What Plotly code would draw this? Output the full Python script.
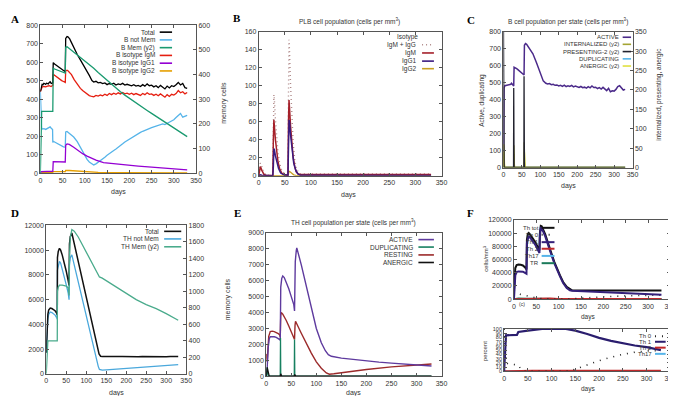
import plotly.graph_objects as go

W, H = 676, 396
FONT = "Liberation Sans"
FRAME = "#555555"
TXT = "#333333"

# ---------------- Panel A : B cell population ----------------
TAIL_A = list(range(120, 331, 5))
a_total_days = [0,2,4,6,8,10,12,14,16,18,20,22,24,26,28,29,32,36,40,44,48,52,56,
                57,60,62,66,70,76,83,90,95,100,105,110,116] + TAIL_A
a_total = [440,472,480,478,485,483,480,486,484,482,490,494,486,484,488,
           597,590,583,575,568,560,555,548,
           728,738,736,725,705,672,641,612,592,572,552,528,500,
           492,496,488,490,484,487,478,484,480,486,476,482,478,485,476,480,477,472,478,470,
           474,468,478,470,482,472,475,466,472,462,474,466,455,470,460,472,468,478,490,476,
           484,462,458]
a_igm_days = [0,2,4,8,12,16,20,24,28,29,32,36,40,44,48,52,56,
              57,60,62,66,70,76,83,90,95,100,105,110,116] + TAIL_A
a_igm = [440,458,465,468,466,470,472,468,474,
         534,528,520,512,506,500,495,490,
         552,556,553,545,532,505,478,458,446,436,426,419,414,
         412,420,416,422,418,426,420,430,424,432,426,434,428,436,428,432,426,432,424,430,
         426,420,430,424,434,426,428,420,426,418,428,420,410,424,414,426,422,430,446,434,
         440,428,436]
a_notmem_days = [0,1,2,3,5,8,12,16,20,22,24,26,27.5,28,29,32,36,40,44,48,52,56,
                 57,60,65,70,75,83,90,95,100,105,110,116] + TAIL_A
a_notmem = [440,380,300,245,238,240,236,242,245,250,244,238,235,
            165,172,168,162,156,150,146,142,140,
            222,225,215,205,195,170,138,112,92,74,60,48,
            44,50,58,66,76,86,96,106,114,122,130,138,148,158,168,176,184,192,198,206,
            212,220,226,232,238,242,246,250,254,258,262,266,262,268,274,280,288,300,314,322,
            302,306,312]
a_mem_days = [0,1,2,3,28,29,32,40,48,56,57,60,65,70,80,90,100,110,120,130,140,150,160,170,
              180,190,200,210,220,230,240,250,260,270,280,290,300,310,320,330]
a_mem = [0,150,235,250,250,425,422,416,410,405,510,512,505,498,484,470,456,440,425,408,392,
         375,360,345,330,316,303,290,278,266,254,242,230,218,206,194,182,170,158,148]
a_igg1_days = [0,2,28,29,56,57,60,65,75,85,95,105,115,125,142,160,176,194,220,250,280,310,330]
a_igg1 = [0,8,10,62,60,150,158,155,140,122,105,92,80,70,57,52,48,44,38,32,26,21,18]
a_igg2_days = [0,5,28,29,56,57,65,80,100,130,180,250,330]
a_igg2 = [0,3,4,8,8,14,14,11,7,4,2,1,1]

# ---------------- Panel B : PLB cell population ----------------
b_igm_days = [0,2,3,4,6,8,10,14,20,27,28,29,30,32,34,37,40,44,50,56,57,58,59,61,63,66,69,72,76,80,330]
b_igm = [0,6,10,9,6,3,1.5,0.5,0.3,0.3,40,62,55,40,28,15,8,3,1,0.5,60,84,75,55,38,20,10,4,2,1.5,1.5]
b_igg1_days = [0,3,6,27,28,29,30,32,35,38,42,48,56,57,58,59,61,64,67,71,75,80,330]
b_igg1 = [0,1,0.5,0,10,30,29,22,14,8,3,1,0.5,30,62,60,45,28,14,6,2,0.5,0.3]
b_igg2_days = [0,56,57,58,60,63,67,72,330]
b_igg2 = [0,0,2,5,4.5,2.5,1,0.2,0]
b_sum_days = [0,2,3,5,7,9,12,16,27,28,29,30,32,34,37,40,44,50,56,57,58,59,61,63,66,69,72,76,80,330]
b_sum = [0,10,14,12,8,5,2,0.8,0.5,50,90,84,62,44,25,14,6,2,1,92,151,137,100,68,36,18,8,4,2,2]

# ---------------- Panel C : B cell population per state ----------------
c_active_days = [0,1,2,4,8,12,16,20,22,24,27,28,29,32,36,40,44,48,52,55,
                 56,57,60,63,70,80,90,100,108,115] + TAIL_A
c_active = [0,300,470,482,484,482,488,490,496,488,484,480,590,588,582,575,568,562,556,550,
            545,720,730,726,705,670,615,555,510,496,
            492,494,488,490,484,486,480,484,478,485,476,481,477,484,475,479,476,471,477,470,
            473,467,476,469,480,471,473,465,470,462,472,464,453,466,446,452,450,460,476,482,
            468,456,460]
c_present_days = [0,0.5,1,1.5,2,27.5,28,28.5,29,55.5,56,56.5,57,330]
c_present = [400,200,80,15,0,0,205,30,0,0,235,30,0,0]
c_intern_days = [0,0.5,1.5,2.5,3,28,28.5,29.5,30,56,56.5,57.5,58,330]
c_intern = [0,60,55,10,0,0,57,10,0,0,65,10,0,0]
c_anergic_days = [0,1,2,3,4,28,29,30,31,56,57,58,59,330]
c_anergic = [0,30,40,10,0,0,35,5,0,0,40,8,0,0]
c_dup_days = [0,1,2,3,28,28.5,29,56,56.5,57,330]
c_dup = [0,80,20,0,0,30,0,0,30,0,0]

# ---------------- Panel D : TH cell population ----------------
d_total_days = [0,2,4,6,8,10,14,18,22,26,27.5,28,30,33,36,40,45,50,55,57,
                58,60,64,70,80,90,100,110,120,128,132,136,140] + list(range(150, 331, 10))
d_total = [1700,3500,4800,5150,5300,5320,5280,5200,5100,4900,4750,
           9400,9900,10150,10000,9600,9000,8300,7500,7150,
           10500,11100,11390,10520,9070,7620,6170,4720,3270,2100,1600,1420,1390,
           1400,1380,1410,1390,1400,1385,1405,1395,1380,1400,1390,1410,1385,1400,1395,1380,
           1405,1390,1400]
d_notmem_days = [0,2,4,6,8,10,14,18,22,26,27.5,28,30,33,36,40,45,50,55,57,
                 58,60,64,70,80,90,100,110,115,120,125,130,133,140,150,175,200,225,250,275,300,330]
d_notmem = [1700,3300,4450,4800,4950,5000,4950,4850,4750,4550,4400,
            8400,8850,9100,8950,8500,7900,7200,6500,6000,
            8800,9400,9620,8790,7410,6050,4690,3340,2650,1980,1250,600,350,300,320,380,440,
            500,560,620,680,740]
d_mem_days = [0,2,4,27.5,28,30,33,40,50,55,57,58,60,64,70,80,90,100,110,120,128,133,140,150,
              160,175,200,225,250,275,300,330]
d_mem = [0,250,400,400,1000,1050,1075,1075,1065,1040,950,1400,1650,1750,1730,1660,1570,1480,
         1380,1290,1210,1175,1160,1130,1100,1050,975,900,840,790,730,650]

# ---------------- Panel E : TH cell population per state ----------------
e_active_days = [0,2,4,6,8,12,16,20,24,27,28,29,31,33,36,40,45,50,55,56.5,
                 58,60,61,70,80,90,100,110,118,124,130,150,175,200,225,250,275,300,330]
e_active = [0,600,1800,2350,2480,2500,2480,2440,2380,2300,2250,5600,6150,6300,6200,5900,5500,
            5000,4500,4100,7200,7900,8070,7000,5700,4300,3000,2100,1600,1350,1250,1130,1040,
            950,880,820,760,700,640]
e_rest_days = [0,1,2,3,5,8,12,16,20,24,27,28,29,30,33,36,40,45,50,55,56.5,57.5,58.5,
               70,80,90,100,110,120,126,135,150,175,200,250,300,330]
e_rest = [1400,1100,900,1500,2500,2800,2830,2800,2750,2680,2580,2450,3800,4000,3900,3750,3500,
          3150,2800,2450,2300,3200,3450,2700,2050,1450,900,500,200,120,150,220,320,420,580,700,760]
e_dup_days = [0,1,2,3,4,28,28.5,29,56,56.5,57,330]
e_dup = [0,300,550,200,0,0,2400,0,0,2300,0,0]
e_anergic_days = [0,1,2,3,4,6,28,29,31,56,57,59,330]
e_anergic = [0,300,550,400,200,0,0,150,0,0,100,0,0]

# ---------------- Panel F : Th subsets ----------------
f_tot_days = [0,1,3,6,10,15,20,25,28,29,31,33,37,42,48,54,57,58,60,62,
              66,70,81,90,103,110,118,125,130,140,160,200,250,300,330]
f_tot = [13000,30000,47000,51500,52500,52000,51000,48000,45000,90000,99000,100200,97000,92000,
         86000,78000,74000,100000,111000,110500,105000,98000,75000,57000,36000,26000,18500,
         15000,13500,13000,13000,13000,13000,13000,13000]
f_th1_days = [0,1,3,6,10,20,25,28,29,31,33,37,42,48,54,57,58,60,62,66,
              70,81,90,103,110,118,125,130,140,175,200,250,300,330]
f_th1 = [0,20000,36000,41000,42000,41500,40000,38500,85000,94000,95500,92500,88000,82000,74000,
         70000,96000,108000,107500,102000,95000,72500,55000,34500,24500,17000,13500,12800,12500,
         11000,10000,8500,7300,6800]
f_th0_days = [0,5,10,20,30,40,50,60,80,100,120,140,160,200,250,300,330]
f_th0 = [13000,10000,8000,6500,4500,3000,2000,1000,300,100,200,1000,2000,3500,5000,6000,6200]
f_th2_days = [0,30,60,80,100,330]
f_th2 = [0,500,1500,1000,300,100]
f_th17_days = [0,330]
f_th17 = [0,0]
f_tr_days = [0,10,30,60,100,330]
f_tr = [0,800,600,800,300,200]

p_th1_days = [0,2,4,27,30,50,70,80,130,150,175,200,225,250,275,300,330]
p_th1 = [0,50,85,86,93,96,99,100,100,96,88,79,72,66,61,57,50]
p_th0_days = [0,2,4,10,30,35,40,130,140,150,175,200,225,250,275,300,330]
p_th0 = [100,40,20,17,15,5,0,0,1,5,15,25,33,40,45,48,49]
p_th2_days = [0,60,330]
p_th2 = [0,1,1]
p_th17_days = [0,330]
p_th17 = [0,0]

DAY_TICKS = list(range(0, 351, 50))

# ---------------- layout helpers ----------------
def dx(l, r):
    return [l / W, r / W]

def dy(t, b):
    return [1 - b / H, 1 - t / H]

def px(x):
    return x / W

def py(y):
    return 1 - y / H

def axis(**kw):
    d = dict(showline=True, linecolor=FRAME, linewidth=1, ticks="inside", ticklen=3,
             tickwidth=1, tickcolor=FRAME, showgrid=False, zeroline=False, tickformat="d",
             tickfont=dict(family=FONT, size=7, color=TXT))
    d.update(kw)
    return d

fig = go.Figure()

def line(xs, ys, color, xa, ya, width=1.3, dash=None):
    fig.add_trace(go.Scatter(x=xs, y=ys, mode="lines", xaxis=xa, yaxis=ya, showlegend=False,
                             hoverinfo="skip",
                             line=dict(color=color, width=width, dash=dash)))

BOXES = {
    1: ((30.7, 188.3), (13.3, 164.0)),
    2: ((251.7, 436.7), (20.0, 166.7)),
    3: ((499.3, 630.0), (20.0, 158.3)),
    4: ((36.7, 178.3), (217.3, 368.3)),
    5: ((259.3, 436.7), (225.0, 370.7)),
    6: ((510.0, 668.3), (211.7, 292.3)),
    7: ((500.0, 668.3), (322.7, 365.7)),
}
YR = {1: (0, 800, 100), 2: (0, 160, 20), 3: (0, 800, 100), 4: (0, 12000, 2000),
      5: (0, 9000, 1000), 6: (0, 120000, 20000), 7: (0, 100, 10)}
HAS_Y2 = {1: (8, 600, 100), 3: (9, 350, 50), 4: (10, 1800, 200)}

lay = {}
for i, ((l, r), (t, b)) in BOXES.items():
    sfx = "" if i == 1 else str(i)
    lo, hi, st = YR[i]
    lay["xaxis" + sfx] = axis(domain=dx(l, r), anchor="y" + sfx, range=[0, 350],
                              tickvals=DAY_TICKS, mirror="ticks")
    yfont = dict(family=FONT, size=5.5 if i == 7 else 7, color=TXT)
    lay["yaxis" + sfx] = axis(domain=dy(t, b), anchor="x" + sfx, range=[lo, hi],
                              tickvals=list(range(lo, hi + 1, st)),
                              mirror=False if i in HAS_Y2 else "ticks", tickfont=yfont)
    if i in HAS_Y2:
        n, hi2, st2 = HAS_Y2[i]
        lay["yaxis%d" % n] = axis(overlaying="y" + sfx, side="right", anchor="x" + sfx,
                                  range=[0, hi2], tickvals=list(range(0, hi2 + 1, st2)))

# ---------------- traces ----------------
# A
line(a_mem_days, a_mem, "#1a9a70", "x", "y8")
line(a_notmem_days, a_notmem, "#56b4e9", "x", "y")
line(a_igg2_days, a_igg2, "#e69f00", "x", "y")
line(a_igg1_days, a_igg1, "#9400d3", "x", "y")
line(a_igm_days, a_igm, "#e51e10", "x", "y")
line(a_total_days, a_total, "#000000", "x", "y")
# B
line(b_sum_days, b_sum, "#b08a8a", "x2", "y2", width=1.4, dash="1px,3px")
line(b_igg2_days, b_igg2, "#c8a020", "x2", "y2")
line(b_igm_days, b_igm, "#a5202a", "x2", "y2", width=1.5)
line(b_igg1_days, b_igg1, "#3a1a80", "x2", "y2", width=1.5)
# C
line(c_anergic_days, c_anergic, "#e0e040", "x3", "y9")
line(c_intern_days, c_intern, "#a4a432", "x3", "y9")
line(c_dup_days, c_dup, "#56b4e9", "x3", "y3")
line(c_present_days, c_present, "#22222e", "x3", "y9")
line(c_active_days, c_active, "#4b2a8a", "x3", "y3", width=1.5)
# D
line(d_mem_days, d_mem, "#4aab8c", "x4", "y10")
line(d_notmem_days, d_notmem, "#4aa8dc", "x4", "y4")
line(d_total_days, d_total, "#111111", "x4", "y4", width=1.5)
# E
line(e_rest_days, e_rest, "#9b2a2a", "x5", "y5", width=1.4)
line(e_active_days, e_active, "#5e3a9e", "x5", "y5", width=1.4)
line(e_dup_days, e_dup, "#178060", "x5", "y5")
line(e_anergic_days, e_anergic, "#111111", "x5", "y5")
# F top
line(f_th17_days, f_th17, "#56b4e9", "x6", "y6", width=2)
line(f_tr_days, f_tr, "#1b7a5a", "x6", "y6", width=2)
line(f_th2_days, f_th2, "#c0282a", "x6", "y6", width=2)
line(f_th0_days, f_th0, "#222222", "x6", "y6", width=1.6, dash="1px,6px")
line(f_tot_days, f_tot, "#111111", "x6", "y6", width=2)
line(f_th1_days, f_th1, "#34207a", "x6", "y6", width=2)
# F bottom
line(p_th17_days, p_th17, "#56b4e9", "x7", "y7", width=2)
line(p_th2_days, p_th2, "#c0282a", "x7", "y7", width=2)
line(p_th0_days, p_th0, "#222222", "x7", "y7", width=1.6, dash="1px,6px")
line(p_th1_days, p_th1, "#2a1d6e", "x7", "y7", width=2.2)

# ---------------- annotations & key samples ----------------
ann = []
shapes = []

def text(x, y, s, size=7, angle=0, anchor="center", family=FONT, color=TXT, bold=False):
    if bold:
        s = "<b>" + s + "</b>"
    ann.append(dict(x=px(x), y=py(y), xref="paper", yref="paper", text=s, showarrow=False,
                    xanchor=anchor, yanchor="middle", textangle=angle,
                    font=dict(family=family, size=size, color=color)))

def key(entries, xr, x0, x1, ys, size=6.5, width=1.6):
    for (label, color, dash), y in zip(entries, ys):
        text(xr, y, label, size=size, anchor="right")
        shapes.append(dict(type="line", xref="paper", yref="paper", x0=px(x0), x1=px(x1),
                           y0=py(y), y1=py(y), line=dict(color=color, width=width, dash=dash)))

# panel letters
for s, x, y in [("A", 5, 7), ("B", 230, 6), ("C", 467, 8), ("D", 5, 205), ("E", 230, 205), ("F", 466, 205)]:
    text(x, y, s, size=11, family="Liberation Serif", color="#000", bold=True)

# titles
text(344, 10, "PLB cell population (cells per mm<sup>3</sup>)", size=6.5)
text(565, 10, "B cell population per state (cells per mm<sup>3</sup>)", size=6.5)
text(348, 214, "TH cell population per state (cells per mm<sup>3</sup>)", size=6.5)

# axis titles
text(110, 183, "days")
text(217, 92, "memory cells", angle=-90)
text(343, 186, "days")
text(565, 177, "days")
text(478, 90, "Active, duplicating", size=6.5, angle=-90)
text(656, 84, "internalized, presenting, anergic", size=6.5, angle=-90)
text(108, 388, "days")
text(220, 292, "memory cells", angle=-90)
text(348, 388, "days")
text(585, 310, "days", size=6.5)
text(481, 251, "cells/mm<sup>3</sup>", size=6, angle=-90)
text(585, 384, "days", size=6.5)
text(481, 345, "percent", size=6, angle=-90)
text(518, 297, "(c)", size=5)

# keys
key([("Total", "#000000", None), ("B not Mem", "#56b4e9", None), ("B Mem (y2)", "#1a9a70", None),
     ("B isotype IgM", "#e51e10", None), ("B isotype IgG1", "#9400d3", None),
     ("B isotype IgG2", "#e69f00", None)],
    149, 151.5, 164, [20.5 + 7.9 * k for k in range(6)])
text(402, 25, "Isotype", size=6.5)
key([("IgM + IgG", "#b08a8a", "1px,3px"), ("IgM", "#a5202a", None), ("IgG1", "#3a1a80", None),
     ("IgG2", "#c8a020", None)], 413, 417, 429, [33.3, 41.7, 50, 57.7])
key([("ACTIVE", "#4b2a8a", None), ("INTERNALIZED (y2)", "#a4a432", None),
     ("PRESENTING-2 (y2)", "#22222e", None), ("DUPLICATING", "#56b4e9", None),
     ("ANERGIC (y2)", "#e0e040", None)], 618, 620, 628.5, [25.7, 32.9, 40.3, 47.7, 55], size=6)
key([("Total", "#111111", None), ("TH not Mem", "#4aa8dc", None), ("TH Mem (y2)", "#4aab8c", None)],
    153, 156, 173.3, [223.3, 231, 239])
key([("ACTIVE", "#5e3a9e", None), ("DUPLICATING", "#178060", None), ("RESTING", "#9b2a2a", None),
     ("ANERGIC", "#111111", None)], 410, 413.3, 429, [231.7, 239.3, 247.3, 255])
key([("Th tot", "#111111", None), ("Th 0", "#222222", "1px,6px"), ("Th 1", "#34207a", None),
     ("Th 2", "#c0282a", None), ("Th17", "#56b4e9", None), ("TR", "#1b7a5a", None)],
    537, 538, 551, [219.7, 226.7, 234.3, 241, 248.3, 255.7], size=6, width=2)
key([("Th 0", "#222222", "1px,6px"), ("Th 1", "#2a1d6e", None), ("Th 2", "#c0282a", None),
     ("Th17", "#56b4e9", None)], 651.5, 652.7, 663.5, [330, 335.7, 341.7, 348], size=6, width=2)

fig.update_layout(width=W, height=H, autosize=False, margin=dict(l=0, r=0, t=0, b=0),
                  paper_bgcolor="white", plot_bgcolor="white", showlegend=False,
                  annotations=ann, shapes=shapes, **lay)

fig.write_html("out.html")
